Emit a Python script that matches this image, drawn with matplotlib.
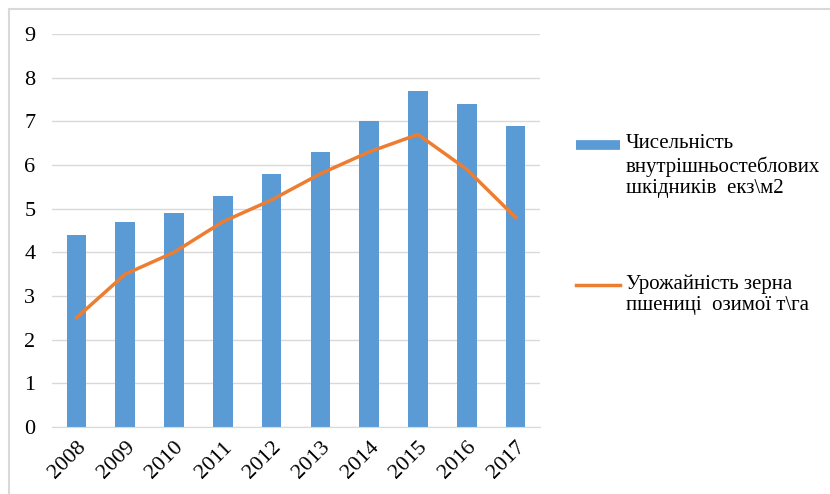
import numpy as np
import matplotlib.pyplot as plt
from matplotlib.lines import Line2D

# data
years = ['2008', '2009', '2010', '2011', '2012', '2013', '2014', '2015', '2016', '2017']
pests = [4.4, 4.7, 4.9, 5.3, 5.8, 6.3, 7.0, 7.7, 7.4, 6.9]
yield_t = [2.5, 3.5, 4.0, 4.7, 5.2, 5.8, 6.3, 6.7, 5.9, 4.8]

pest_label = 'Чисельність\nвнутрішньостеблових\nшкідників  екз\\м2'
yield_label = 'Урожайність зерна\nпшениці  озимої т\\га'

blue = '#5B9BD5'
orange = '#ED7D31'
FONT = 'Liberation Serif'

plt.rcParams['font.family'] = 'serif'
plt.rcParams['font.serif'] = [FONT, 'DejaVu Serif']

fig = plt.figure(figsize=(8.3, 4.94), dpi=100)
ax = fig.add_axes([52/830, 67/494, (540-52)/830, (427-34)/494])

x = np.arange(len(years))
ax.bar(x, pests, width=0.4, color=blue, zorder=2)
ax.plot(x, yield_t, color=orange, lw=2.5, zorder=3)

ax.set_xlim(-0.5, len(years) - 0.5)
ax.set_ylim(0, 9)
ax.set_yticks(range(0, 10))
ax.set_yticklabels([str(v) for v in range(0, 10)], family=FONT, fontsize=16)
ax.set_xticks(x)
ax.set_xticklabels(years, rotation=45, ha='right', va='top', rotation_mode='anchor',
                   family=FONT, fontsize=16)
ax.tick_params(axis='both', length=0, colors='#000000')
ax.tick_params(axis='x', pad=8)
ax.tick_params(axis='y', pad=12)
ax.grid(axis='y', color='#D9D9D9', lw=1, zorder=0)
for s in ['top', 'right', 'left']:
    ax.spines[s].set_visible(False)
ax.spines['bottom'].set_color('#D9D9D9')

# outer chart frame (only top/left visible in the crop)
fig.add_artist(Line2D([9/830, 1.0], [1 - 9/494, 1 - 9/494], color='#D9D9D9', lw=1.5, transform=fig.transFigure))
fig.add_artist(Line2D([9/830, 9/830], [0.0, 1 - 9/494], color='#D9D9D9', lw=1.5, transform=fig.transFigure))

# legend drawn as two entries on the right
fig.add_artist(Line2D([576/830, 620/830], [1 - 145/494, 1 - 145/494], color=blue, lw=7,
                      solid_capstyle='butt', transform=fig.transFigure))
fig.text(626/830, 1 - 134/494, pest_label, family=FONT, fontsize=15, va='top', ha='left', linespacing=1.2)
fig.add_artist(Line2D([576/830, 620/830], [1 - 285/494, 1 - 285/494], color=orange, lw=2.5,
                      transform=fig.transFigure))
fig.text(626/830, 1 - 274/494, yield_label, family=FONT, fontsize=15, va='top', ha='left', linespacing=1.2)

fig.savefig('out.png', dpi=100)
